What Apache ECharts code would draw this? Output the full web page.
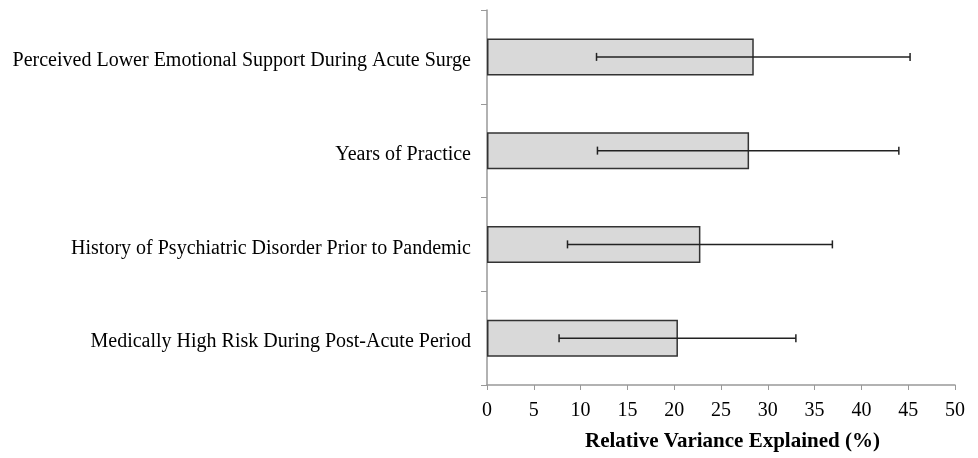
<!DOCTYPE html>
<html>
<head>
<meta charset="utf-8">
<script src="https://cdn.jsdelivr.net/npm/echarts@6/dist/echarts.min.js"></script>
<style>
  html, body { margin: 0; padding: 0; background: #fff; }
  #chart1 { width: 978px; height: 458px; }
</style>
</head>
<body>
<div id="chart1"></div>
<script>
// categories, top to bottom
const categories = [
  "Perceived Lower Emotional Support During Acute Surge",
  "Years of Practice",
  "History of Psychiatric Disorder Prior to Pandemic",
  "Medically High Risk During Post-Acute Period"
];
// relative variance explained (%)
const values = [28.5, 28.0, 22.8, 20.4];
// error bar ends
const lower = [11.7, 11.8, 8.6, 7.7];
const upper = [45.2, 44.0, 36.9, 33.0];
const xTicks = [0, 50, 5]; // min, max, interval

const font = "'Liberation Serif', 'Times New Roman', serif";
let myChart = echarts.init(document.getElementById("chart1"));

myChart.setOption({
  animation: false,
  backgroundColor: "#fff",
  title: {
    text: "Relative Variance Explained (%)",
    left: 585,
    top: 431,
    padding: 0,
    textStyle: { fontFamily: font, fontSize: 21, fontWeight: "bold", color: "#000" }
  },
  grid: { left: 487, right: 23, top: 10, bottom: 73 },
  xAxis: {
    type: "value",
    min: xTicks[0],
    max: xTicks[1],
    interval: xTicks[2],
    splitLine: { show: false },
    axisLine: { show: true, lineStyle: { color: "#999", width: 1.5 } },
    axisTick: { show: true, length: 5, lineStyle: { color: "#999" } },
    axisLabel: { fontFamily: font, fontSize: 20, color: "#000", margin: 16 }
  },
  yAxis: {
    type: "category",
    inverse: true,
    data: categories,
    axisLine: { show: true, lineStyle: { color: "#999", width: 1.5 } },
    axisTick: { show: true, length: 6, lineStyle: { color: "#999" } },
    axisLabel: {
      margin: 16,
      formatter: v => "{t|" + v + "}",
      rich: { t: { fontFamily: font, fontSize: 20, color: "#000", padding: [8, 0, 0, 0] } }
    }
  },
  series: [
    {
      name: "variance",
      type: "bar",
      data: values,
      barWidth: 37,
      itemStyle: { color: "#d9d9d9", borderColor: "#333", borderWidth: 1.5 }
    },
    {
      name: "error",
      type: "custom",
      data: categories.map((c, i) => [i, lower[i], upper[i]]),
      encode: { y: 0, x: [1, 2] },
      z: 5,
      renderItem: function (params, api) {
        const idx = api.value(0);
        const a = api.coord([api.value(1), idx]);
        const b = api.coord([api.value(2), idx]);
        const h = 4;
        const style = { stroke: "#222", lineWidth: 1.5 };
        return {
          type: "group",
          children: [
            { type: "line", shape: { x1: a[0], y1: a[1], x2: b[0], y2: b[1] }, style: style },
            { type: "line", shape: { x1: a[0], y1: a[1] - h, x2: a[0], y2: a[1] + h }, style: style },
            { type: "line", shape: { x1: b[0], y1: b[1] - h, x2: b[0], y2: b[1] + h }, style: style }
          ]
        };
      }
    }
  ]
});
</script>
</body>
</html>
